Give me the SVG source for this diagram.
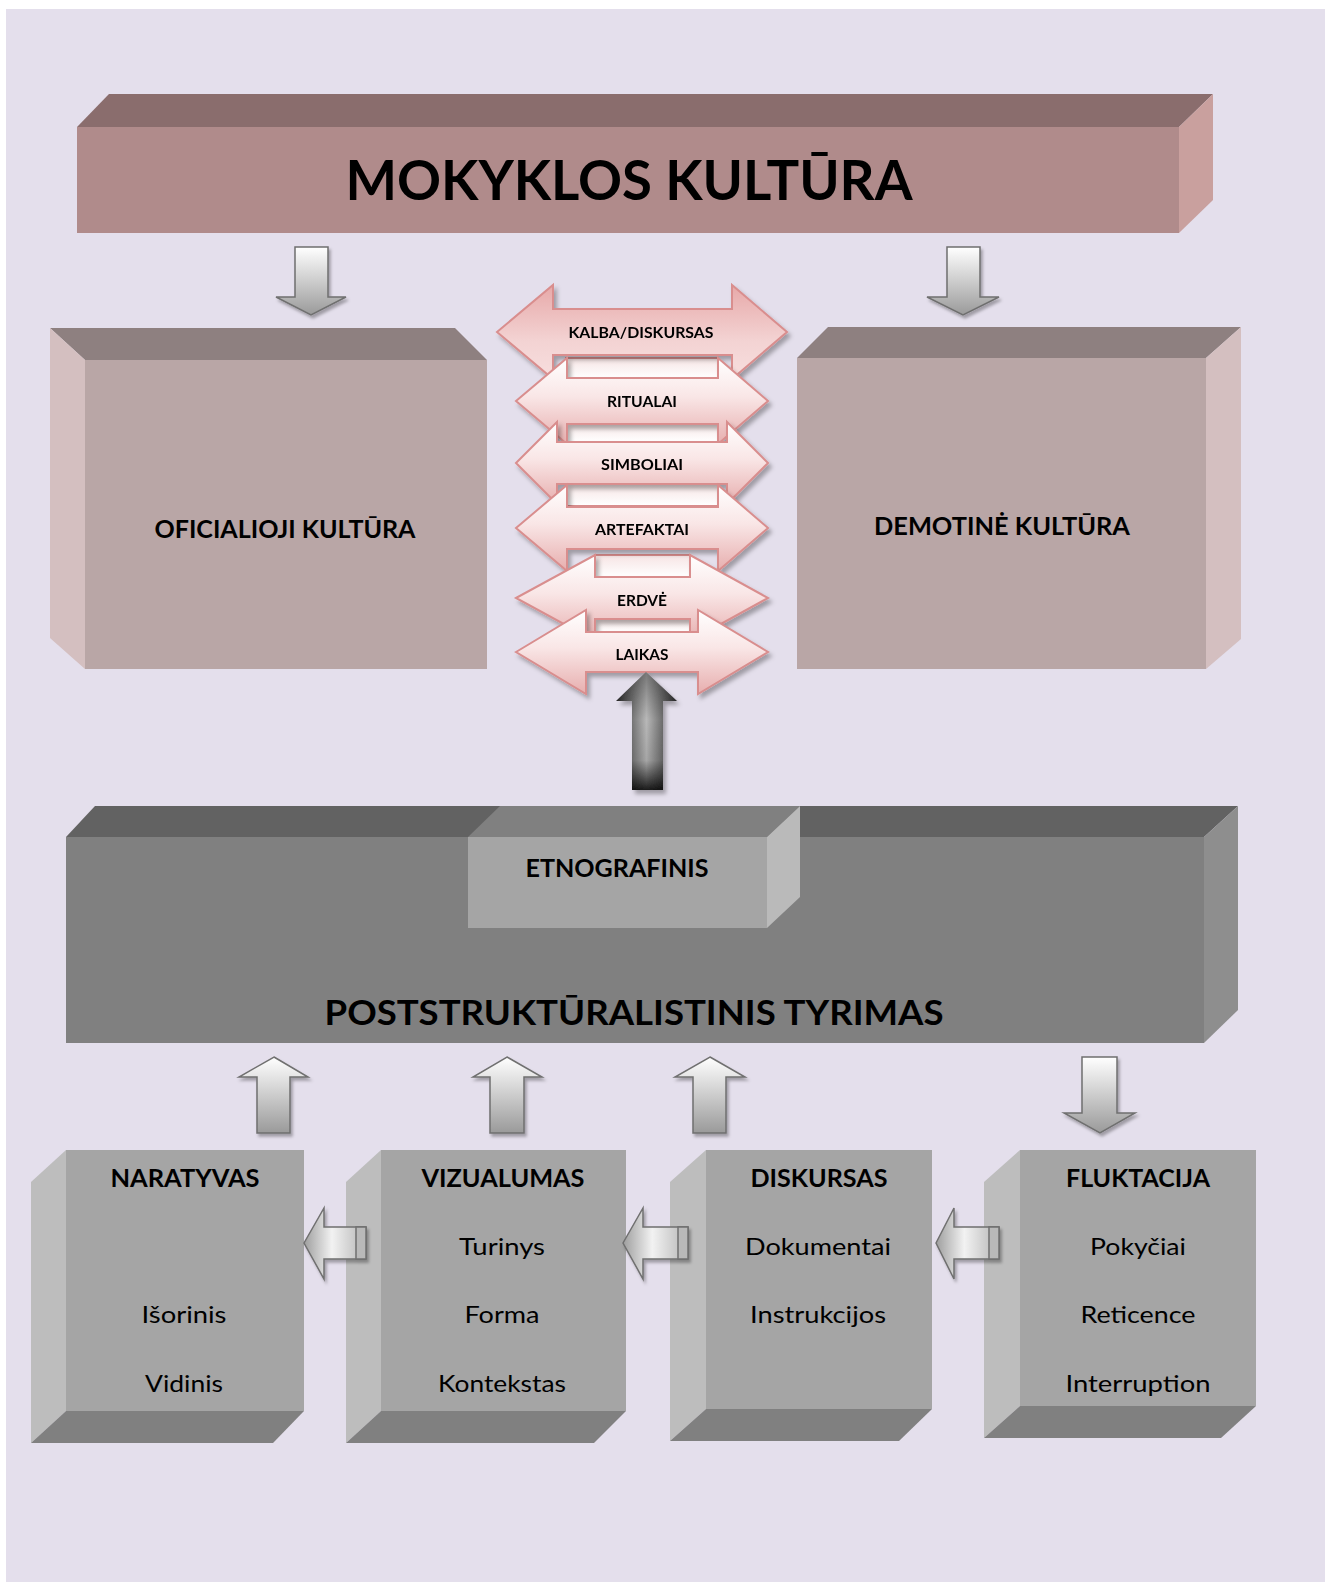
<svg xmlns="http://www.w3.org/2000/svg" width="1330" height="1582" viewBox="0 0 1330 1582">
<defs>
<linearGradient id="gPinkArrow" x1="0" y1="0" x2="0" y2="1"><stop offset="0" stop-color="#ffffff"/><stop offset="0.45" stop-color="#f9e6e6"/><stop offset="1" stop-color="#e7aeae"/></linearGradient>
<linearGradient id="gPinkTop" x1="0" y1="0" x2="0" y2="1"><stop offset="0" stop-color="#e7a9a9"/><stop offset="0.6" stop-color="#f3d3d3"/><stop offset="1" stop-color="#f7dede"/></linearGradient>
<linearGradient id="gNotch" x1="0" y1="0" x2="0" y2="1"><stop offset="0" stop-color="#f6e4e4"/><stop offset="1" stop-color="#ffffff"/></linearGradient>
<linearGradient id="gGrayV" x1="0" y1="0" x2="0" y2="1"><stop offset="0" stop-color="#ffffff"/><stop offset="1" stop-color="#9a9a9a"/></linearGradient>
<linearGradient id="gGrayH" x1="0" y1="0" x2="1" y2="0"><stop offset="0" stop-color="#9e9e9e"/><stop offset="0.45" stop-color="#f2f2f2"/><stop offset="1" stop-color="#b4b4b4"/></linearGradient>
<linearGradient id="gDarkH" x1="0" y1="0" x2="1" y2="0"><stop offset="0" stop-color="#2a2a2a"/><stop offset="0.5" stop-color="#b8b8b8"/><stop offset="1" stop-color="#2a2a2a"/></linearGradient>
<linearGradient id="gDarkV" x1="0" y1="0" x2="0" y2="1"><stop offset="0" stop-color="#000" stop-opacity="0.35"/><stop offset="0.4" stop-color="#000" stop-opacity="0"/><stop offset="0.75" stop-color="#000" stop-opacity="0.1"/><stop offset="1" stop-color="#000" stop-opacity="0.85"/></linearGradient>
<filter id="shadow" x="-20%" y="-20%" width="150%" height="150%"><feDropShadow dx="3" dy="4" stdDeviation="2" flood-color="#000" flood-opacity="0.3"/></filter>
<filter id="shadowS" x="-20%" y="-20%" width="150%" height="150%"><feDropShadow dx="2" dy="3" stdDeviation="1.5" flood-color="#000" flood-opacity="0.3"/></filter>
</defs>
<style>
.bg{fill:#e4dfec}
.t{font-family:Lato,"Open Sans","Liberation Sans",sans-serif;font-weight:700;fill:#000;text-anchor:middle}
.r{font-family:Lato,"Open Sans","Liberation Sans",sans-serif;font-weight:400;fill:#000;text-anchor:middle;font-size:24px}
.h{font-size:24px}
.lbl{font-size:15px}
.pa{fill:url(#gPinkArrow);stroke:#d98e8e;stroke-width:2;stroke-linejoin:miter}
.notch{fill:url(#gNotch);stroke:#d98e8e;stroke-width:2}
.ga{stroke:#6f6f6f;stroke-width:1.5;stroke-linejoin:miter}
</style>
<rect width="1330" height="1582" fill="#ffffff"/>
<rect class="bg" x="6" y="9" width="1319" height="1573"/>

<g id="mokyklos-kultura">
<polygon points="77,127 109,94 1213,94 1179,127" fill="#8a6d6d"/>
<polygon points="1179,127 1213,94 1213,200 1179,233" fill="#c9a09e"/>
<rect x="77" y="127" width="1102" height="106" fill="#b08b8b"/>
<text class="t" x="629" y="200" font-size="56" textLength="567" lengthAdjust="spacingAndGlyphs">MOKYKLOS KULTŪRA</text>
</g>

<g id="oficialioji-kultura">
<polygon points="50,328 455,328 487,360 85,360" fill="#8e8080"/>
<polygon points="50,328 85,360 85,669 50,638" fill="#d4bfc0"/>
<rect x="85" y="360" width="402" height="309" fill="#b9a6a6"/>
<text class="t" x="285" y="538" font-size="25" textLength="261" lengthAdjust="spacingAndGlyphs">OFICIALIOJI KULTŪRA</text>
</g>

<g id="demotine-kultura">
<polygon points="828,327 1241,327 1206,358 797,358" fill="#8e8080"/>
<polygon points="1206,358 1241,327 1241,639 1206,669" fill="#d4bfc0"/>
<rect x="797" y="358" width="409" height="311" fill="#b9a6a6"/>
<text class="t" x="1002" y="535" font-size="25" textLength="256" lengthAdjust="spacingAndGlyphs">DEMOTINĖ KULTŪRA</text>
</g>

<g id="poststrukturalistinis-tyrimas">
<polygon points="95,806 1238,806 1204,837 66,837" fill="#626262"/>
<polygon points="1204,837 1238,806 1238,1010 1204,1043" fill="#8e8e8e"/>
<rect x="66" y="837" width="1138" height="206" fill="#808080"/>
<text class="t" x="634" y="1025" font-size="35" textLength="619" lengthAdjust="spacingAndGlyphs">POSTSTRUKTŪRALISTINIS TYRIMAS</text>
</g>

<g id="etnografinis">
<polygon points="500,806 800,806 767,837 468,837" fill="#808080"/>
<polygon points="767,837 800,806 800,897 767,928" fill="#bababa"/>
<rect x="468" y="837" width="299" height="91" fill="#a5a5a5"/>
<text class="t" x="617" y="877" font-size="24" textLength="183" lengthAdjust="spacingAndGlyphs">ETNOGRAFINIS</text>
</g>

<g id="naratyvas">
<polygon points="31,1182 66,1150 66,1411 31,1443" fill="#bdbdbd"/>
<polygon points="66,1411 304,1411 273,1443 31,1443" fill="#808080"/>
<rect x="66" y="1150" width="238" height="261" fill="#a5a5a5"/>
<text class="t h" x="185" y="1187" textLength="149" lengthAdjust="spacingAndGlyphs">NARATYVAS</text>
<text class="r" x="184" y="1323" textLength="85" lengthAdjust="spacingAndGlyphs">Išorinis</text>
<text class="r" x="184" y="1392" textLength="78" lengthAdjust="spacingAndGlyphs">Vidinis</text>
</g>

<g id="vizualumas">
<polygon points="346,1182 381,1150 381,1411 346,1443" fill="#bdbdbd"/>
<polygon points="381,1411 626,1411 594,1443 346,1443" fill="#808080"/>
<rect x="381" y="1150" width="245" height="261" fill="#a5a5a5"/>
<text class="t h" x="503" y="1187" textLength="163" lengthAdjust="spacingAndGlyphs">VIZUALUMAS</text>
<text class="r" x="502" y="1255" textLength="86" lengthAdjust="spacingAndGlyphs">Turinys</text>
<text class="r" x="502" y="1323" textLength="75" lengthAdjust="spacingAndGlyphs">Forma</text>
<text class="r" x="502" y="1392" textLength="128" lengthAdjust="spacingAndGlyphs">Kontekstas</text>
</g>

<g id="diskursas">
<polygon points="670,1182 706,1150 706,1409 670,1441" fill="#bdbdbd"/>
<polygon points="706,1409 932,1409 899,1441 670,1441" fill="#808080"/>
<rect x="706" y="1150" width="226" height="259" fill="#a5a5a5"/>
<text class="t h" x="819" y="1187" textLength="137" lengthAdjust="spacingAndGlyphs">DISKURSAS</text>
<text class="r" x="818" y="1255" textLength="146" lengthAdjust="spacingAndGlyphs">Dokumentai</text>
<text class="r" x="818" y="1323" textLength="136" lengthAdjust="spacingAndGlyphs">Instrukcijos</text>
</g>

<g id="fluktacija">
<polygon points="984,1182 1020,1150 1020,1406 984,1438" fill="#bdbdbd"/>
<polygon points="1020,1406 1256,1406 1221,1438 984,1438" fill="#808080"/>
<rect x="1020" y="1150" width="236" height="256" fill="#a5a5a5"/>
<text class="t h" x="1138" y="1187" textLength="144" lengthAdjust="spacingAndGlyphs">FLUKTACIJA</text>
<text class="r" x="1138" y="1255" textLength="96" lengthAdjust="spacingAndGlyphs">Pokyčiai</text>
<text class="r" x="1138" y="1323" textLength="115" lengthAdjust="spacingAndGlyphs">Reticence</text>
<text class="r" x="1138" y="1392" textLength="145" lengthAdjust="spacingAndGlyphs">Interruption</text>
</g>

<g id="double-arrows">
<rect class="notch" x="566" y="358" width="152" height="20"/>
<rect class="notch" x="566" y="422" width="152" height="20"/>
<rect class="notch" x="566" y="484" width="152" height="22"/>
<rect class="notch" x="595" y="555" width="95" height="22"/>
<rect class="notch" x="595" y="619" width="95" height="13"/>
<g id="kalba-diskursas" filter="url(#shadow)">
<path class="pa" style="fill:url(#gPinkTop)" d="M497,332 L553,285 L553,309 L732,309 L732,285 L787,332 L732,379 L732,355 L553,355 L553,379 Z"/>
<text class="t lbl" x="641" y="338" textLength="145" lengthAdjust="spacingAndGlyphs">KALBA/DISKURSAS</text>
</g>
<g id="ritualai" filter="url(#shadow)">
<path class="pa" d="M516,401 L567,358 L567,378 L718,378 L718,358 L768,401 L718,444 L718,424 L567,424 L567,444 Z"/>
<text class="t lbl" x="642" y="407" textLength="70" lengthAdjust="spacingAndGlyphs">RITUALAI</text>
</g>
<g id="simboliai" filter="url(#shadow)">
<path class="pa" d="M516,463 L557,422 L557,442 L727,442 L727,422 L768,463 L727,504 L727,484 L557,484 L557,504 Z"/>
<text class="t lbl" x="642" y="470" textLength="82" lengthAdjust="spacingAndGlyphs">SIMBOLIAI</text>
</g>
<g id="artefaktai" filter="url(#shadow)">
<path class="pa" d="M516,528 L567,485 L567,507 L718,507 L718,485 L768,528 L718,571 L718,549 L567,549 L567,571 Z"/>
<text class="t lbl" x="642" y="535" textLength="94" lengthAdjust="spacingAndGlyphs">ARTEFAKTAI</text>
</g>
<g id="erdve" filter="url(#shadow)">
<path class="pa" d="M516,598 L595,555 L595,577 L690,577 L690,555 L768,598 L690,641 L690,619 L595,619 L595,641 Z"/>
<text class="t lbl" x="642" y="606" textLength="50" lengthAdjust="spacingAndGlyphs">ERDVĖ</text>
</g>
<g id="laikas" filter="url(#shadow)">
<path class="pa" d="M516,652 L586,610 L586,632 L698,632 L698,610 L768,652 L698,694 L698,672 L586,672 L586,694 Z"/>
<text class="t lbl" x="642" y="660" textLength="53" lengthAdjust="spacingAndGlyphs">LAIKAS</text>
</g>
</g>

<g id="connectors">
<g filter="url(#shadowS)">
<path class="ga" fill="url(#gGrayV)" d="M295,247 H328 V297 H346 L311,315 L276,297 H295 Z"/>
<path class="ga" fill="url(#gGrayV)" d="M947,247 H980 V297 H999 L963,315 L927,297 H947 Z"/>
</g>
<g filter="url(#shadow)">
<path fill="url(#gDarkH)" d="M646,672 L677,701 L663,701 L663,790 L632,790 L632,701 L616,701 Z"/>
<path fill="url(#gDarkV)" d="M646,672 L677,701 L663,701 L663,790 L632,790 L632,701 L616,701 Z"/>
</g>
<g filter="url(#shadowS)">
<path class="ga" fill="url(#gGrayV)" d="M274,1057 L308,1077 H290 V1133 H257 V1077 H239 Z"/>
<path class="ga" fill="url(#gGrayV)" d="M507,1057 L542,1077 H524 V1133 H490 V1077 H473 Z"/>
<path class="ga" fill="url(#gGrayV)" d="M710,1057 L745,1077 H726 V1133 H693 V1077 H675 Z"/>
<path class="ga" fill="url(#gGrayV)" d="M1082,1057 H1117 V1113 H1135 L1100,1133 L1064,1113 H1082 Z"/>
</g>
<g filter="url(#shadowS)">
<path class="ga" fill="url(#gGrayH)" d="M304,1243 L324,1208 V1227 H366 V1259 H324 V1279 Z"/>
<rect class="ga" x="356" y="1227" width="10" height="32" fill="#b9b9b9"/>
<path class="ga" fill="url(#gGrayH)" d="M623,1243 L643,1208 V1227 H688 V1259 H643 V1279 Z"/>
<rect class="ga" x="678" y="1227" width="10" height="32" fill="#b9b9b9"/>
<path class="ga" fill="url(#gGrayH)" d="M936,1243 L954,1208 V1227 H999 V1259 H954 V1279 Z"/>
<rect class="ga" x="989" y="1227" width="10" height="32" fill="#b9b9b9"/>
</g>
</g>
</svg>
